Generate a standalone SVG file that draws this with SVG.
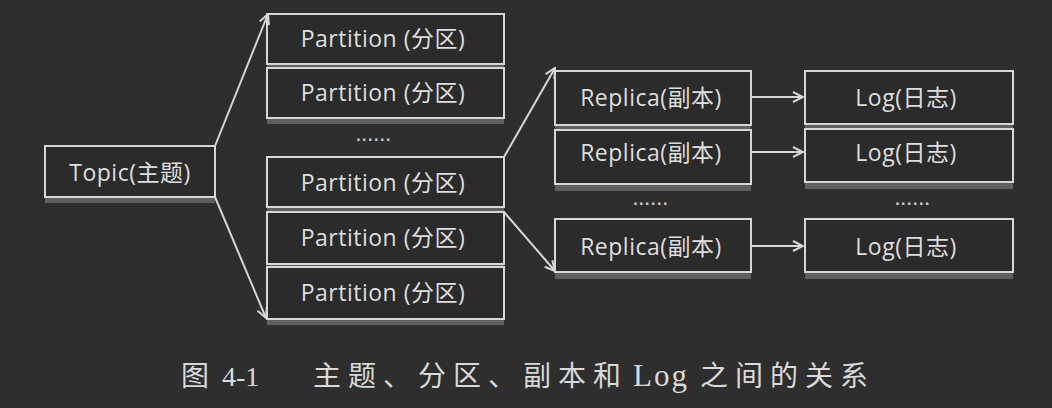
<svg xmlns="http://www.w3.org/2000/svg" width="1052" height="408" viewBox="0 0 1052 408">
<defs>
<style>
.bg{fill:#2e2e2e}
.box{fill:#2b2b2b;stroke:#d6d6d6;stroke-width:2}
.sh{fill:#8a8a8a;opacity:0.55}
.t{fill:#dedede;font-family:"Open Sans","Noto Sans CJK SC",sans-serif;font-size:23px;text-anchor:middle;dominant-baseline:central;letter-spacing:0.5px}
.dots{fill:#cfcfcf;font-family:"Liberation Sans",sans-serif;font-size:16px;text-anchor:middle;letter-spacing:1.5px;font-weight:bold}
.c{stroke:#d6d6d6;stroke-width:2;fill:none}
.cap{fill:#d9d9d9;font-family:"Liberation Serif","Noto Sans CJK SC",serif;font-size:28px}
.cj{letter-spacing:7px}
</style>
<marker id="ah" viewBox="0 0 12 12" refX="11" refY="6" markerWidth="12" markerHeight="12" markerUnits="userSpaceOnUse" orient="auto">
<path d="M1,1 L11,6 L1,11" fill="none" stroke="#d6d6d6" stroke-width="2"/>
</marker>
</defs>
<rect class="bg" x="0" y="0" width="1052" height="408"/>

<g id="topic">
<rect class="sh" x="45" y="197" width="170" height="6"/>
<rect class="box" x="45" y="146" width="170" height="51"/>
<text class="t" x="130" y="172">Topic(主题)</text>
</g>

<g id="partition1">
<rect class="sh" x="267" y="64" width="237" height="5"/>
<rect class="box" x="267" y="14" width="237" height="50"/>
<text class="t" x="383" y="38">Partition (分区)</text>
</g>
<g id="partition2">
<rect class="sh" x="267" y="118" width="237" height="6"/>
<rect class="box" x="267" y="68" width="237" height="50"/>
<text class="t" x="383" y="92">Partition (分区)</text>
</g>
<text class="dots" x="374" y="141">......</text>
<g id="partition3">
<rect class="sh" x="267" y="207" width="237" height="5"/>
<rect class="box" x="267" y="157" width="237" height="50"/>
<text class="t" x="383" y="182">Partition (分区)</text>
</g>
<g id="partition4">
<rect class="sh" x="267" y="264" width="237" height="4"/>
<rect class="box" x="267" y="212" width="237" height="52"/>
<text class="t" x="383" y="237">Partition (分区)</text>
</g>
<g id="partition5">
<rect class="sh" x="267" y="319" width="237" height="6"/>
<rect class="box" x="267" y="267" width="237" height="52"/>
<text class="t" x="383" y="292">Partition (分区)</text>
</g>

<g id="replica1">
<rect class="sh" x="555" y="125" width="196" height="5"/>
<rect class="box" x="555" y="71" width="196" height="54"/>
<text class="t" x="651" y="97">Replica(副本)</text>
</g>
<g id="replica2">
<rect class="sh" x="555" y="184" width="196" height="7"/>
<rect class="box" x="555" y="130" width="196" height="54"/>
<text class="t" x="651" y="152">Replica(副本)</text>
</g>
<text class="dots" x="651" y="205">......</text>
<g id="replica3">
<rect class="sh" x="555" y="272" width="196" height="7"/>
<rect class="box" x="555" y="219" width="196" height="53"/>
<text class="t" x="651" y="246">Replica(副本)</text>
</g>

<g id="log1">
<rect class="sh" x="805" y="124" width="208" height="5"/>
<rect class="box" x="805" y="71" width="208" height="53"/>
<text class="t" x="906" y="97">Log(日志)</text>
</g>
<g id="log2">
<rect class="sh" x="805" y="182" width="208" height="7"/>
<rect class="box" x="805" y="129" width="208" height="53"/>
<text class="t" x="906" y="152">Log(日志)</text>
</g>
<text class="dots" x="913" y="205">......</text>
<g id="log3">
<rect class="sh" x="805" y="272" width="208" height="7"/>
<rect class="box" x="805" y="219" width="208" height="53"/>
<text class="t" x="906" y="246">Log(日志)</text>
</g>

<g id="connectors">
<line class="c" x1="215" y1="146" x2="268" y2="14" marker-end="url(#ah)"/>
<line class="c" x1="215" y1="197" x2="266" y2="318" marker-end="url(#ah)"/>
<line class="c" x1="504" y1="157" x2="555" y2="68" marker-end="url(#ah)"/>
<line class="c" x1="504" y1="212" x2="555" y2="271" marker-end="url(#ah)"/>
<line class="c" x1="751" y1="97" x2="803" y2="97" marker-end="url(#ah)"/>
<line class="c" x1="751" y1="152" x2="803" y2="152" marker-end="url(#ah)"/>
<line class="c" x1="751" y1="246" x2="803" y2="246" marker-end="url(#ah)"/>
</g>

<g id="caption">
<text class="cap" x="181" y="386">图</text>
<text class="cap" x="222" y="386">4-1</text>
<text class="cap cj" x="313" y="386">主题、分区、副本和</text>
<text class="cap" x="633" y="386" style="font-size:31px;letter-spacing:2px">Log</text>
<text class="cap cj" x="700" y="386">之间的关系</text>
</g>
</svg>
